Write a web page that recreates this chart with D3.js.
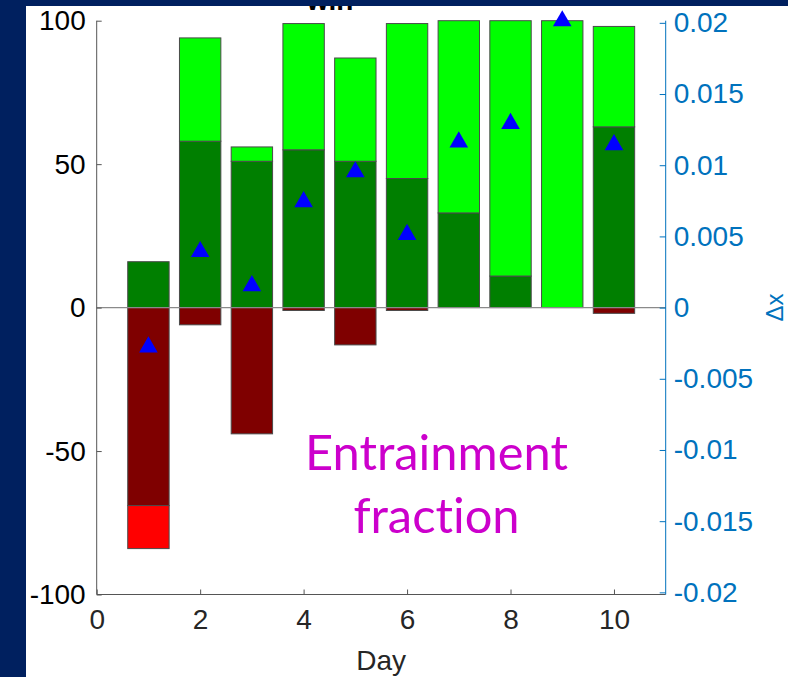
<!DOCTYPE html>
<html>
<head>
<meta charset="utf-8">
<script src="https://cdn.jsdelivr.net/npm/d3@7"></script>
<style>
  html, body { margin: 0; padding: 0; background: #00205f; }
  svg { display: block; }
</style>
</head>
<body>
<svg id="chart" width="788" height="677"></svg>
<script>
// Daily values
const days = [1, 2, 3, 4, 5, 6, 7, 8, 9, 10];
// Entrained share (dark green) and total positive share (top of light green), %
const entrained = [16, 58, 51, 55, 51, 45, 33, 11, 0, 63];
const positiveTotal = [16, 94, 56, 99, 87, 99, 100, 100, 100, 98];
// Negative share (dark red) and total negative share (bottom of red), %
const negativeCore = [-69, -6, -44, -1, -13, -1, 0, 0, 0, -2];
const negativeTotal = [-84, -6, -44, -1, -13, -1, 0, 0, 0, -2];
// Displacement on the right axis
const deltaX = [-0.0027, 0.0040, 0.0016, 0.0075, 0.0096, 0.0052, 0.0117, 0.0130, 0.0202, 0.0115];

const leftTicks = [-100, -50, 0, 50, 100];
const rightTicks = [-0.02, -0.015, -0.01, -0.005, 0, 0.005, 0.01, 0.015, 0.02];
const xTicks = [0, 2, 4, 6, 8, 10];

(function draw() {
  const svg = d3.select("#chart");
  const W = 788, H = 677;

  // backdrop
  svg.append("rect").attr("width", W).attr("height", H).attr("fill", "#00205f");
  svg.append("rect").attr("x", 26).attr("y", 6).attr("width", W - 26).attr("height", H - 6).attr("fill", "#ffffff");

  const pLeft = 96.7, pRight = 665.7, pTop = 20.7, pBottom = 594.5;
  const x = d3.scaleLinear().domain([0, 11]).range([pLeft, pRight]);
  const yL = d3.scaleLinear().domain([-100, 100]).range([pBottom, pTop]);
  const yR = d3.scaleLinear().domain([-0.02015, 0.02015]).range([pBottom, pTop]);
  const bw = x(0.8) - x(0);

  const font = "'Liberation Sans', Arial, Helvetica, sans-serif";
  const plain = (d) => String(+(+d).toFixed(3)); // hyphen-minus, trimmed decimals

  // title, partly hidden under the banner
  svg.append("text").attr("x", 330).attr("y", 10).attr("text-anchor", "middle")
    .attr("font-family", font).attr("font-weight", "bold").attr("font-size", 28)
    .attr("fill", "#000").text("win");
  svg.append("rect").attr("width", W).attr("height", 6).attr("fill", "#00205f");

  // bars
  const barG = svg.append("g");
  const stroke = "#4a4a4a";
  function bars(lo, hi, color) {
    barG.selectAll(null).data(days).enter().append("rect")
      .attr("x", (d) => x(d) - bw / 2)
      .attr("width", bw)
      .attr("y", (d, i) => yL(Math.max(lo[i], hi[i])))
      .attr("height", (d, i) => Math.abs(yL(lo[i]) - yL(hi[i])))
      .attr("fill", color)
      .attr("stroke", stroke).attr("stroke-width", 1)
      .attr("display", (d, i) => (lo[i] === hi[i] ? "none" : null));
  }
  const zeros = days.map(() => 0);
  bars(zeros, entrained, "#007f00");
  bars(entrained, positiveTotal, "#00ff00");
  bars(zeros, negativeCore, "#7f0000");
  bars(negativeCore, negativeTotal, "#ff0000");

  // baseline
  svg.append("line").attr("x1", pLeft).attr("x2", pRight)
    .attr("y1", yL(0)).attr("y2", yL(0))
    .attr("stroke", "#8a8a8a").attr("stroke-width", 1.2);

  // triangles on the right-axis scale
  const tri = d3.symbol().type(d3.symbolTriangle).size(150);
  svg.append("g").selectAll("path").data(days).enter().append("path")
    .attr("d", tri)
    .attr("transform", (d, i) => `translate(${x(d)},${yR(deltaX[i]) + 1})`)
    .attr("fill", "#0000ff");

  // left axis
  const axL = svg.append("g").attr("transform", `translate(${pLeft},0)`)
    .call(d3.axisLeft(yL).tickValues(leftTicks).tickSize(-5).tickPadding(11).tickFormat(plain));
  axL.select(".domain").attr("stroke", "#555").attr("d", `M0,${pTop}V${pBottom}`);
  axL.selectAll(".tick line").attr("stroke", "#555");
  axL.selectAll(".tick text").attr("font-family", font).attr("font-size", 28).attr("fill", "#000");

  // bottom axis
  const axB = svg.append("g").attr("transform", `translate(0,${pBottom})`)
    .call(d3.axisBottom(x).tickValues(xTicks).tickSize(-5).tickPadding(15).tickFormat(plain));
  axB.select(".domain").attr("stroke", "#555").attr("d", `M${pLeft},0H${pRight}`);
  axB.selectAll(".tick line").attr("stroke", "#555");
  axB.selectAll(".tick text").attr("font-family", font).attr("font-size", 28).attr("fill", "#262626");

  svg.append("text").attr("x", (pLeft + pRight) / 2).attr("y", 670).attr("text-anchor", "middle")
    .attr("font-family", font).attr("font-size", 28).attr("fill", "#262626").text("Day");

  // right axis
  const axR = svg.append("g").attr("transform", `translate(${pRight},0)`)
    .call(d3.axisRight(yR).tickValues(rightTicks).tickSize(-6).tickPadding(8).tickFormat(plain));
  axR.select(".domain").attr("stroke", "#0072bd").attr("d", `M0,${pTop}V${pBottom}`);
  axR.selectAll(".tick line").attr("stroke", "#0072bd");
  axR.selectAll(".tick text").attr("font-family", font).attr("font-size", 28).attr("fill", "#0072bd");

  svg.append("text")
    .attr("transform", `translate(783,${yR(0)}) rotate(-90)`)
    .attr("text-anchor", "middle")
    .attr("font-family", font).attr("font-size", 24).attr("fill", "#0072bd")
    .text("Δx");

  // annotation
  const note = svg.append("g").attr("font-family", "Lato, 'Open Sans', sans-serif")
    .attr("fill", "#cc00cc").style("font-variant-ligatures", "none");
  const l1 = note.append("text").attr("x", 436.5).attr("y", 470).attr("text-anchor", "middle")
    .attr("font-size", 48).text("Entrainment");
  const w1 = l1.node().getComputedTextLength();
  const fs = 48 * 263 / w1;
  l1.attr("font-size", fs);
  note.append("text").attr("x", 436.5).attr("y", 533).attr("text-anchor", "middle")
    .attr("font-size", fs).text("fraction");
})();
</script>
</body>
</html>
